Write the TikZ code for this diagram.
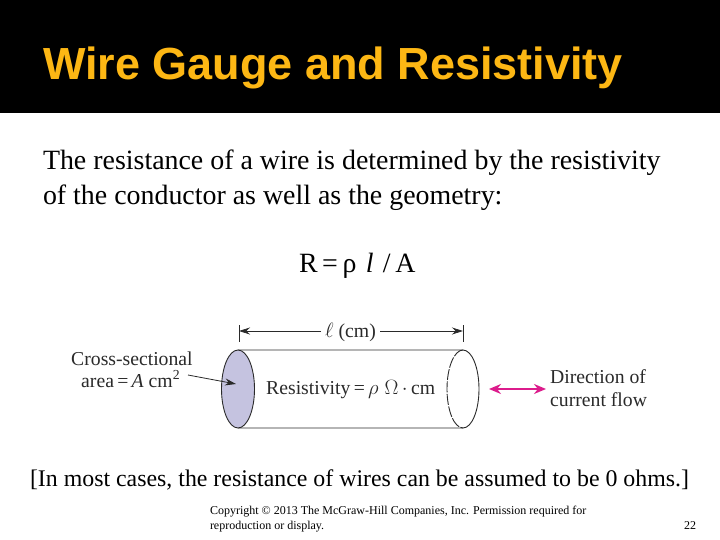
\documentclass[tikz,border=0pt]{standalone}
\usepackage{fontspec}
\setmainfont{Liberation Serif}
\newfontfamily\hv{Liberation Sans}
\usetikzlibrary{arrows.meta}
\definecolor{gold}{HTML}{FDB714}
\definecolor{lav}{HTML}{C5C3E0}
\definecolor{pinkish}{HTML}{DC1C8C}
\definecolor{greyline}{HTML}{B5B5B5}
\definecolor{ink}{HTML}{2A2A2A}
\tikzset{
 px/.style={x=1pt,y=-1pt},
 anchored/.style={anchor=base west,inner sep=0pt,outer sep=0pt},
 bodytxt/.style={anchored,font=\fontsize{27.9}{30}\selectfont},
 figtxt/.style={anchor=base west,inner sep=0pt,font=\fontsize{19.7}{21}\selectfont,text=ink},
 foot/.style={anchored,font=\fontsize{12}{14}\selectfont},
 dimarrow/.style={draw=ink,line width=.8pt,-{Stealth[length=11pt,width=7pt]}},
 tick/.style={draw=ink,line width=.6pt},
 wire/.style={draw=greyline,line width=1.2pt}
}
\begin{document}
\begin{tikzpicture}[px]
\useasboundingbox (0,0) rectangle (720,540);
\fill[white] (0,0) rectangle (720,540);
\fill[black] (0,0) rectangle (720,113);
\node[anchored,text=gold,font=\hv\bfseries\fontsize{45}{48}\selectfont] (title) at (43,80) {Wire Gauge and Resistivity};
\node[bodytxt] (l1) at (43,170) {The resistance of a wire is determined by the resistivity};
\node[bodytxt] (l2) at (43,205) {of the conductor as well as the geometry:};
\node[bodytxt] (eq) at (299,272) {R\,=\,ρ\,\,\textit{l}\,\,/\,A};
% cylinder
\coordinate (lt) at (238,350);
\coordinate (lb) at (238,428);
\coordinate (rt) at (463,350);
\coordinate (rb) at (463,428);
\draw[wire] (lt) -- (rt);
\draw[wire] (lb) -- (rb);
\fill[lav] (238,389) ellipse [x radius=16.5,y radius=39];
\draw[ink,line width=.9pt] (238,389) ellipse [x radius=16.5,y radius=39];
\draw[ink,line width=.9pt] (rt) arc[start angle=90,end angle=-90,x radius=16,y radius=-39];
\draw[ink,line width=.9pt,dash pattern=on 11pt off 1.5pt] (rt) arc[start angle=90,end angle=270,x radius=16,y radius=-39];
% dimension
\node[figtxt] (len) at (325,337) {$\ell$ (cm)};
\coordinate (dl) at (239,331);
\coordinate (dr) at (463,331);
\draw[dimarrow] (len.west |- dl) ++(-4,0) coordinate (la) -- (dl);
\draw[dimarrow] (len.east |- dr) ++(4,0) coordinate (ra) -- (dr);
\coordinate (t1a) at (239,325); \coordinate (t1b) at (239,342);
\coordinate (t2a) at (463,325); \coordinate (t2b) at (463,342);
\draw[tick] (t1a) -- (t1b);
\draw[tick] (t2a) -- (t2b);
% labels
\node[figtxt] (cs) at (71,365) {Cross-sectional};
\node[figtxt] (ar) at (81,387) {area\,=\,\textit{A} cm\textsuperscript{2}};
\node[figtxt] (res) at (266,394) {Resistivity\,=\,$\rho$\hspace{6pt}$\Omega\,\cdot\,$cm};
\node[figtxt] (d1) at (550,383) {Direction of};
\node[figtxt] (d2) at (550,406) {current flow};
\coordinate (aa) at (188,375);
\coordinate (ab) at (236,384);
\draw[dimarrow] (aa) -- (ab);
\coordinate (pa) at (489,389);
\coordinate (pb) at (546,389);
\draw[draw=pinkish,line width=1.6pt,{Stealth[length=12pt,width=10pt]}-{Stealth[length=12pt,width=10pt]}] (pa) -- (pb);
\node[anchored,font=\fontsize{23.85}{26}\selectfont] (note) at (30,486) {[In most cases, the resistance of wires can be assumed to be 0 ohms.]};
\node[foot] (f1) at (210,514) {Copyright © 2013 The McGraw-Hill Companies, Inc. Permission required for};
\node[foot] (f2) at (210,529) {reproduction or display.};
\node[foot] (pg) at (684,529) {22};
\end{tikzpicture}
\end{document}
